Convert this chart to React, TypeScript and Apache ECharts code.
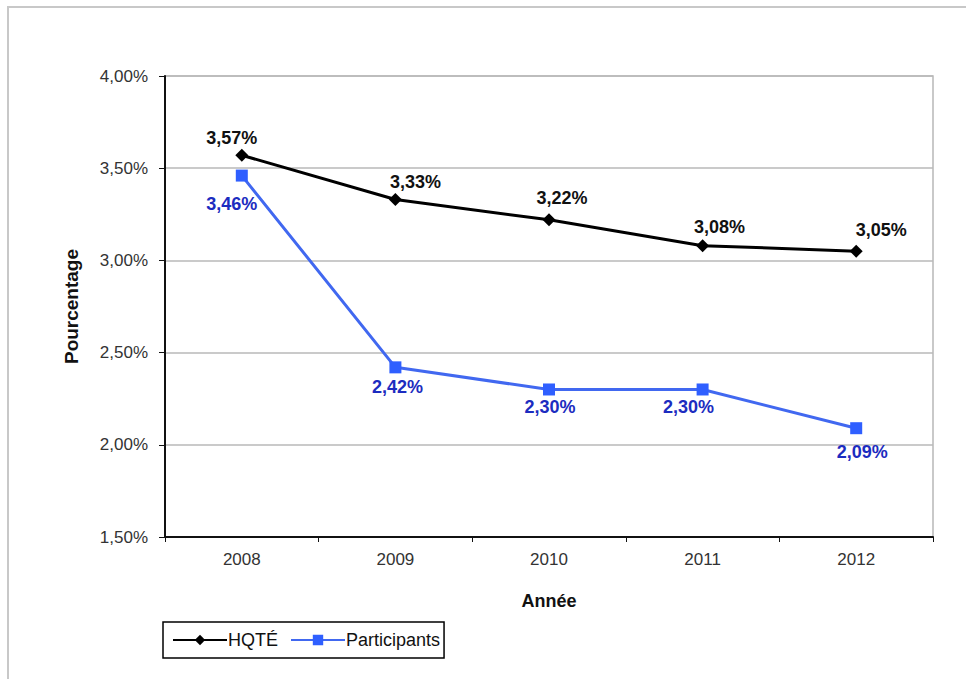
import React, { useEffect, useRef } from "react";
import * as echarts from "echarts";

const years = ["2008", "2009", "2010", "2011", "2012"];
const hqte = [3.57, 3.33, 3.22, 3.08, 3.05];
const participants = [3.46, 2.42, 2.3, 2.3, 2.09];
const yMin = 1.5;
const yMax = 4.0;
const yInterval = 0.5;

// label offsets (style only)
const hqteOffsets: [number, number][] = [[-10, 1], [20, 1], [13, -3], [17, 0], [25, -3]];
const partOffsets: [number, number][] = [[-10, 10], [2, 2], [1, 0], [-14, 0], [6, 6]];

const fmt = (v: number) => v.toFixed(2).replace(".", ",") + "%";

export default function App() {
  const ref = useRef<HTMLDivElement>(null);
  useEffect(() => {
    const chart = echarts.init(ref.current!, null, { renderer: "svg" });
    const font = "'Liberation Sans', Arial, sans-serif";
    chart.setOption({
      animation: false,
      backgroundColor: "#fff",
      textStyle: { fontFamily: font },
      graphic: [
        {
          type: "rect",
          shape: { x: 8, y: 7, width: 1000, height: 700 },
          style: { fill: "none", stroke: "#c8c8c8", lineWidth: 2 },
          silent: true,
          z: -10,
        },
      ],
      grid: { left: 165, right: 33, top: 76, bottom: 142, show: true, borderColor: "#b8b8b8", borderWidth: 1.5 },
      legend: {
        left: 163,
        top: 622,
        orient: "horizontal",
        borderColor: "#000",
        borderWidth: 1.5,
        padding: [9, 4, 9, 9],
        itemGap: 12,
        itemWidth: 54,
        itemHeight: 13,
        textStyle: { fontSize: 18, color: "#111", fontFamily: font, padding: [0, 0, 0, -4] },
        data: ["HQTÉ", "Participants"],
      },
      xAxis: {
        type: "category",
        data: years,
        boundaryGap: true,
        name: "Année",
        nameLocation: "middle",
        nameGap: 55,
        nameTextStyle: { fontSize: 18, fontWeight: "bold", color: "#111", fontFamily: font },
        axisLine: { lineStyle: { color: "#111", width: 2 } },
        axisTick: { show: true, length: 5, lineStyle: { color: "#111" } },
        axisLabel: { fontSize: 17, color: "#333", margin: 14, fontFamily: font },
        splitLine: { show: false },
      },
      yAxis: {
        type: "value",
        min: yMin,
        max: yMax,
        interval: yInterval,
        name: "Pourcentage",
        nameLocation: "middle",
        nameGap: 84,
        nameRotate: 90,
        nameTextStyle: { fontSize: 19, fontWeight: "bold", color: "#111", fontFamily: font },
        axisLine: { show: true, lineStyle: { color: "#111", width: 2 } },
        axisTick: { show: true, length: 6, inside: false, lineStyle: { color: "#111" } },
        axisLabel: { fontSize: 17, color: "#333", margin: 17, formatter: (v: number) => fmt(v), fontFamily: font },
        splitLine: { show: true, lineStyle: { color: "#b8b8b8", width: 1.5 } },
      },
      series: [
        {
          name: "HQTÉ",
          type: "line",
          data: hqte.map((v, i) => ({ value: v, label: { offset: hqteOffsets[i] } })),
          symbol: "diamond",
          symbolSize: 13,
          itemStyle: { color: "#000" },
          lineStyle: { color: "#000", width: 3 },
          label: {
            show: true,
            position: "top",
            distance: 3,
            formatter: (p: any) => fmt(p.value),
            fontSize: 18,
            fontWeight: "bold",
            color: "#111",
            fontFamily: font,
          },
          z: 3,
        },
        {
          name: "Participants",
          type: "line",
          data: participants.map((v, i) => ({ value: v, label: { offset: partOffsets[i] } })),
          symbol: "rect",
          symbolSize: 12,
          itemStyle: { color: "#2f5fff" },
          lineStyle: { color: "#4168f0", width: 3 },
          label: {
            show: true,
            position: "bottom",
            distance: 3,
            formatter: (p: any) => fmt(p.value),
            fontSize: 18,
            fontWeight: "bold",
            color: "#1c2cc0",
            fontFamily: font,
          },
          z: 2,
        },
      ],
    });
    return () => chart.dispose();
  }, []);
  return (
    <div
      ref={ref}
      style={{ position: "fixed", left: 0, top: 0, width: 966, height: 679, background: "#fff" }}
    />
  );
}
